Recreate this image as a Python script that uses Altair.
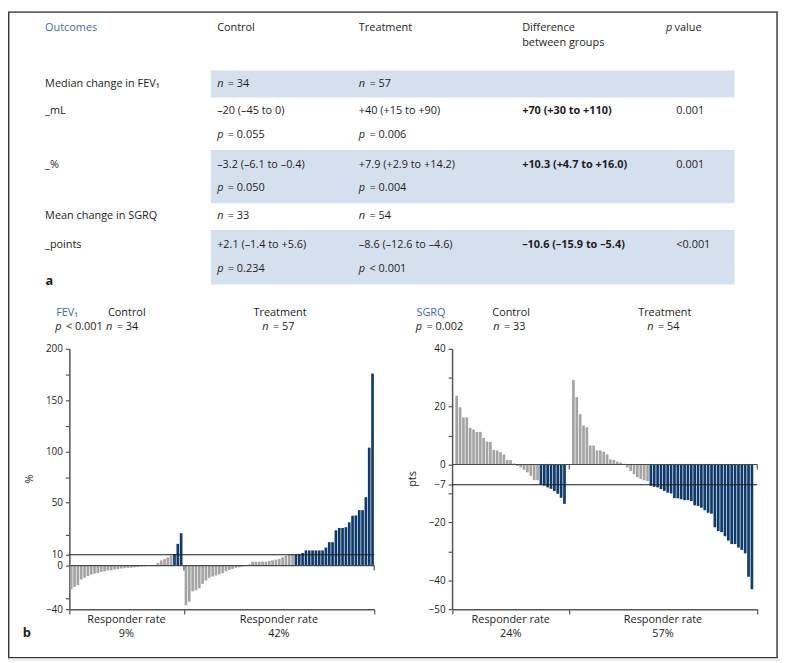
import altair as alt
import pandas as pd

# ---------------- values ----------------
fev_control = [-21.8, -19.7, -18.0, -12.7, -11.2, -9.7, -8.2, -7.3, -6.7, -5.8, -5.2, -4.5,
               -4.2, -3.6, -3.3, -2.7, -2.4, -2.1, -1.8, -1.5, -1.2, -0.9, -0.6, -0.3,
               0.0, 0.3, 2.4, 4.8, 6.0, 7.6, 9.0, 10.5, 18.3, 26.4]
fev_treatment = [-36.4, -33.0, -23.6, -22.7, -21.0, -16.7, -13.6, -11.2, -10.0, -9.1, -8.0, -7.0,
                 -5.2, -4.0, -3.0, -2.1, -1.5, -0.6,
                 0.3, 1.0, 3.6, 3.6, 3.6, 3.6, 3.6, 4.2, 4.8, 5.5, 6.0, 7.6, 9.0, 9.8, 9.9,
                 10.2, 10.2, 11.3, 13.3, 13.3, 13.3, 13.3, 13.3, 13.3, 15.5, 19.6, 19.6,
                 28.6, 30.4, 30.4, 31.0, 34.7, 39.7, 40.0, 44.0, 44.0, 55.0, 104.0, 176.0]
sgrq_control = [23.8, 19.8, 16.3, 16.3, 12.7, 12.1, 11.3, 11.3, 9.2, 7.9, 7.8, 5.1, 4.9, 4.3,
                3.5, 1.6, 1.5, 0.4, -0.5, -1.0, -1.8, -2.7, -3.9, -5.4, -5.4,
                -7.0, -7.3, -7.9, -8.4, -9.2, -10.1, -11.5, -13.6]
sgrq_treatment = [29.2, 23.3, 17.4, 13.5, 12.9, 6.6, 6.6, 4.9, 4.9, 4.4, 3.5, 1.8, 1.6, 1.0,
                  0.7, 0.3, -1.0, -2.2, -3.3, -4.4, -5.0, -5.4, -5.7,
                  -7.3, -7.7, -7.9, -8.5, -9.1, -9.7, -10.0, -11.6, -11.7, -12.0, -12.3, -12.3,
                  -12.6, -14.1, -14.3, -14.9, -15.8, -16.7, -17.0, -21.7, -23.0, -23.4, -24.8,
                  -26.3, -27.5, -27.5, -28.7, -29.5, -30.7, -38.8, -43.1]

fev_threshold = 10
sgrq_threshold = -7
fev_ticks = [200, 175, 150, 125, 100, 75, 50, 25, 10, 0, -30, -40]
fev_tick_labels = [200, 150, 100, 50, 10, 0, -40]
sgrq_ticks = [40, 30, 20, 10, 0, -7, -10, -20, -30, -40, -50]
sgrq_tick_labels = [40, 20, 0, -7, -20, -40, -50]

col_headers = ["Outcomes", "Control", "Treatment", "Difference", "between groups", "p value"]
row_labels = ["Median change in FEV\u2081", "_mL", "_%", "Mean change in SGRQ", "_points"]
control_cells = ["n = 34", "\u201320 (\u201345 to 0)", "p = 0.055", "\u20133.2 (\u20136.1 to \u20130.4)",
                 "p = 0.050", "n = 33", "+2.1 (\u20131.4 to +5.6)", "p = 0.234"]
treatment_cells = ["n = 57", "+40 (+15 to +90)", "p = 0.006", "+7.9 (+2.9 to +14.2)",
                   "p = 0.004", "n = 54", "\u20138.6 (\u201312.6 to \u20134.6)", "p < 0.001"]
diff_cells = ["+70 (+30 to +110)", "+10.3 (+4.7 to +16.0)", "\u201310.6 (\u201315.9 to \u20135.4)"]
pvalue_cells = ["0.001", "0.001", "<0.001"]
panel_names = ["FEV\u2081", "SGRQ"]
panel_p = ["p < 0.001", "p = 0.002"]
panel_units = ["%", "pts"]
group_names = ["Control", "Treatment"]
fev_n = ["n = 34", "n = 57"]
sgrq_n = ["n = 33", "n = 54"]
rate_label = "Responder rate"
fev_rates = ["9%", "42%"]
sgrq_rates = ["24%", "57%"]
panel_letters = ["a", "b"]

# ---------------- layout & style ----------------
OFF = 8
W, H = 780, 655
FONT = "Open Sans"
TXT = "#1e1e1e"
BLUE_TXT = "#3d6db0"
GREY = "#a4a4a4"
NAVY = "#0e3b6c"
AX = "#555555"
SHADE = "#d5e0ee"


def P(v):
    return v - OFF


cells = {"reg": [], "ital": [], "bold": [], "blue": [], "center": [], "letter": []}


def add(t, x, y, style="reg"):
    if style == "reg" and (t.startswith("p ") or t.startswith("n ")):
        cells["ital"].append((t[0], P(x), P(y)))
        gap = 8.7 if t == "p value" else 10.8
        cells["reg"].append((t[2:], P(x + gap), P(y)))
    else:
        cells[style].append((t, P(x), P(y)))


# table
X_LABEL, X_CTRL, X_TRT, X_DIFF, X_PHEAD, X_PVAL = 45.5, 219.3, 362.5, 527.5, 672.7, 683.3
add(col_headers[0], X_LABEL, 27.5, "blue")
add(col_headers[1], X_CTRL, 27.5)
add(col_headers[2], X_TRT, 27.5)
add(col_headers[3], X_DIFF, 27.5)
add(col_headers[4], X_DIFF, 43.5)
add(col_headers[5], X_PHEAD, 27.5)
Y_CELLS = [84.5, 111.5, 136, 166, 189.5, 217.5, 247.5, 271.5]
Y_LABELS = [84.5, 111.5, 166, 217.5, 247.5]
Y_DIFF = [111.5, 166, 247.5]
for t, y in zip(row_labels, Y_LABELS):
    add(t, X_LABEL, y)
for t, y in zip(control_cells, Y_CELLS):
    add(t, X_CTRL, y)
for t, y in zip(treatment_cells, Y_CELLS):
    add(t, X_TRT, y)
for t, y in zip(diff_cells, Y_DIFF):
    add(t, X_DIFF, y, "bold")
for t, y in zip(pvalue_cells, Y_DIFF):
    add(t, X_PVAL, y)
add(panel_letters[0], 46, 284, "letter")
add(panel_letters[1], 23, 640, "letter")

# panel headers
add(panel_names[0], 56.7, 315.7, "blue")
add(panel_p[0], 55.7, 330)
add(group_names[0], 109, 315.7)
add(fev_n[0], 107, 330)
add(group_names[1], 256, 315.7)
add(fev_n[1], 265, 330)
add(panel_names[1], 420.7, 315.7, "blue")
add(panel_p[1], 420, 330)
add(group_names[0], 497.3, 315.7)
add(sgrq_n[0], 498.3, 330)
add(group_names[1], 644.7, 315.7)
add(sgrq_n[1], 654, 330)
for cx, r in zip([127.7, 281.7, 516, 669.8], fev_rates + sgrq_rates):
    add(rate_label, cx, 626, "center")
    add(r, cx, 640.5, "center")

STYLE_MARK = {
    "reg": dict(align="left", color=TXT),
    "ital": dict(align="left", color=TXT, fontStyle="italic"),
    "bold": dict(align="left", color=TXT, fontWeight="bold"),
    "blue": dict(align="left", color=BLUE_TXT),
    "center": dict(align="center", color=TXT),
    "letter": dict(align="left", color=TXT, fontWeight="bold", fontSize=13),
}


def text_layer(rows, style):
    df = pd.DataFrame(rows, columns=["t", "x", "y"])
    mk = dict(font=FONT, fontSize=11, baseline="alphabetic")
    mk.update(STYLE_MARK[style])
    return alt.Chart(df).mark_text(**mk).encode(
        x=alt.X("x:Q", scale=None, axis=None),
        y=alt.Y("y:Q", scale=None, axis=None),
        text="t:N",
    )


shade_df = pd.DataFrame({
    "x": [P(213)] * 3, "x2": [P(742)] * 3,
    "y": [P(67.7), P(148), P(229)], "y2": [P(95), P(202), P(284)],
})
shade = alt.Chart(shade_df).mark_rect(color=SHADE).encode(
    x=alt.X("x:Q", scale=None, axis=None), x2="x2:Q",
    y=alt.Y("y:Q", scale=None, axis=None), y2="y2:Q")

frame_df = pd.DataFrame({"x": [0.75], "x2": [P(785)], "y": [0.75], "y2": [P(661)]})
frame = alt.Chart(frame_df).mark_rect(fill="transparent", stroke="#333333", strokeWidth=1.4).encode(
    x=alt.X("x:Q", scale=None, axis=None), x2="x2:Q",
    y=alt.Y("y:Q", scale=None, axis=None), y2="y2:Q")

BAR_W = 0.8


def bars_df(ctrl, trt, c0, t0, is_resp):
    rows = []
    for start, vals in ((c0, ctrl), (t0, trt)):
        for i, v in enumerate(vals):
            rows.append({"s": start + i, "e": start + i + BAR_W, "v": v,
                         "r": "yes" if is_resp(v) else "no"})
    return pd.DataFrame(rows)


def panel(df, xs, ys, end, boundary, thr, ticks, labels, title, axis_x, title_x):
    yaxis = alt.Axis(
        orient="left", offset=-P(axis_x), values=ticks,
        labelExpr=f"indexof({labels}, datum.value) >= 0 ? datum.label : ''",
        title=title, titleX=title_x - axis_x, titleY=P(480), titleAngle=270,
        titleAlign="center", titleBaseline="middle", titleFont=FONT, titleFontSize=11,
        titleFontWeight="normal", titleColor=TXT, grid=False,
        domainColor=AX, domainWidth=1.5, tickColor=AX, tickWidth=1.2, tickSize=4,
        labelFont=FONT, labelFontSize=10, labelColor=TXT, labelPadding=3)
    xaxis = alt.Axis(
        orient="bottom", offset=P(612) - H, values=[0, boundary, end], labels=False,
        title=None, grid=False, domainColor=AX, domainWidth=1.5, tickColor=AX,
        tickWidth=1.2, tickSize=5)
    bars = alt.Chart(df).mark_rect().encode(
        x=alt.X("s:Q", scale=xs, axis=xaxis), x2="e:Q",
        y=alt.Y("v:Q", scale=ys, axis=yaxis), y2=alt.datum(0),
        color=alt.Color("r:N", scale=alt.Scale(domain=["no", "yes"], range=[GREY, NAVY]), legend=None),
    )
    lines_df = pd.DataFrame({"x0": [0, 0], "x1": [end, end], "y": [thr, 0],
                             "c": ["#1a1a1a", "#4a4a4a"]})
    lines = alt.Chart(lines_df).mark_rule(strokeWidth=1.1).encode(
        x=alt.X("x0:Q", scale=xs, axis=xaxis), x2="x1:Q",
        y=alt.Y("y:Q", scale=ys, axis=yaxis), color=alt.Color("c:N", scale=None))
    zt_df = pd.DataFrame({"x": [boundary, end], "y": [0, 0]})
    zticks = alt.Chart(zt_df).mark_rule(strokeWidth=1.2, color=AX, y2Offset=5).encode(
        x=alt.X("x:Q", scale=xs, axis=xaxis),
        y=alt.Y("y:Q", scale=ys, axis=yaxis), y2="y:Q")
    return alt.layer(bars, lines, zticks)


FEV_END, FEV_B = 91.5, 34.38
fev_x = alt.Scale(domain=[0, FEV_END], range=[P(70), P(378)], nice=False, zero=False)
fev_y = alt.Scale(domain=[-40, 0, 10, 50, 100, 150, 200],
                  range=[P(612), P(568), P(557), P(504), P(453), P(401), P(349)],
                  nice=False, zero=False)
fev_panel = panel(bars_df(fev_control, fev_treatment, 0.15, 34.6, lambda v: v >= fev_threshold),
                  fev_x, fev_y, FEV_END, FEV_B, fev_threshold, fev_ticks, fev_tick_labels,
                  panel_units[0], 70, 29.3)

SG_END, SG_B = 90.6, 34.8
sg_x = alt.Scale(domain=[0, SG_END], range=[P(456.7), P(765)], nice=False, zero=False)
sg_y = alt.Scale(domain=[-50, 40], range=[P(612), P(349)], nice=False, zero=False)
sg_panel = panel(bars_df(sgrq_control, sgrq_treatment, 0.97, 35.62, lambda v: v <= sgrq_threshold),
                 sg_x, sg_y, SG_END, SG_B, sgrq_threshold, sgrq_ticks, sgrq_tick_labels,
                 panel_units[1], 456.7, 417)

layers = [shade, frame] + [text_layer(rows, st) for st, rows in cells.items() if rows] + [fev_panel, sg_panel]

chart = alt.layer(*layers).resolve_scale(
    x="independent", y="independent"
).resolve_axis(
    x="independent", y="independent"
).properties(
    width=W, height=H, padding=0, autosize=alt.AutoSizeParams(type="none")
).configure_view(stroke=None).configure(font=FONT)

chart.save("out.html", embed_options={"renderer": "svg", "actions": False})
